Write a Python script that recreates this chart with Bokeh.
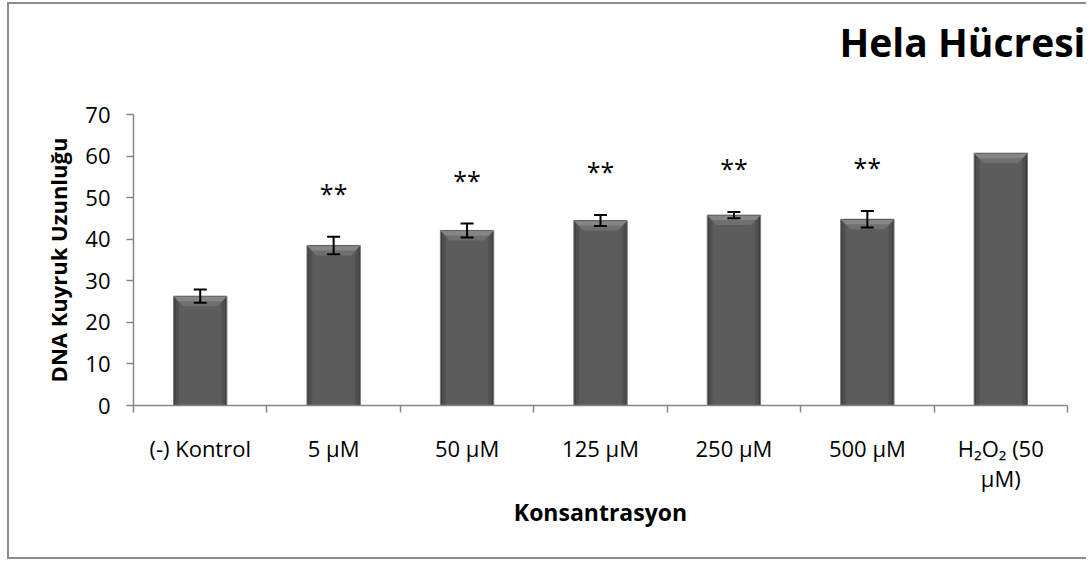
from bokeh.plotting import figure
from bokeh.models import (ColumnDataSource, Range1d, FixedTicker, Whisker, TeeHead, Title)
from bokeh.core.properties import value
from bokeh.embed import file_html
from bokeh.resources import INLINE

# ---- data ----
categories = ["(-) Kontrol", "5 µM", "50 µM", "125 µM", "250 µM", "500 µM", "H₂O₂ (50\nµM)"]
means = [26.3, 38.5, 42.1, 44.5, 45.8, 44.8, 60.7]
errors = [1.6, 2.1, 1.7, 1.3, 0.75, 2.0, 0.0]
significance = ["", "**", "**", "**", "**", "**", ""]
y_ticks = [0, 10, 20, 30, 40, 50, 60, 70]
title_text = "Hela Hücresi"
x_title = "Konsantrasyon"
y_title = "DNA Kuyruk Uzunluğu"

FONT = "Open Sans"
n = len(categories)
xs = [i + 0.5 for i in range(n)]
bar_w = 0.4

p = figure(width=1079, height=557, output_backend="svg", toolbar_location=None,
           x_range=Range1d(0, n), y_range=Range1d(0, 70),
           min_border_left=124, min_border_right=21, min_border_top=110,
           min_border_bottom=156, background_fill_color="white",
           border_fill_color="white", outline_line_color=None,
           styles={"border": "2px solid #8c8c8c", "border-right": "none",
                   "margin-left": "7px", "margin-top": "2px"})
p.grid.visible = False

# bars (layered to imitate bevel/shading)
src = ColumnDataSource(dict(x=xs, top=means))
p.vbar(x="x", top="top", width=bar_w, bottom=0, source=src,
       fill_color="#3e3e3e", line_color="#7a7a7a", line_width=1)
p.vbar(x="x", top="top", width=bar_w * 0.93, bottom=0, source=src,
       fill_color="#505050", line_color=None)
p.vbar(x="x", top="top", width=bar_w * 0.8, bottom=0, source=src,
       fill_color="#5c5c5c", line_color=None)

# top bevel trapezoids derived from bar values
bev_h = 2.4
inset = 0.07
bx, by = [], []
for x, v in zip(xs, means):
    bx.append([x - bar_w / 2 + 0.005, x + bar_w / 2 - 0.005, x + bar_w / 2 - inset, x - bar_w / 2 + inset])
    by.append([v - 0.15, v - 0.15, v - bev_h, v - bev_h])
p.patches(bx, by, fill_color="#707070", line_color=None)
bx2, by2 = [], []
for x, v in zip(xs, means):
    bx2.append([x - bar_w / 2 + 0.005, x + bar_w / 2 - 0.005, x + bar_w / 2 - inset / 2, x - bar_w / 2 + inset / 2])
    by2.append([v - 0.15, v - 0.15, v - bev_h / 2, v - bev_h / 2])
p.patches(bx2, by2, fill_color="#868686", line_color=None)

# error bars
ex = [x for x, e in zip(xs, errors) if e > 0]
eu = [m + e for m, e in zip(means, errors) if e > 0]
el = [m - e for m, e in zip(means, errors) if e > 0]
esrc = ColumnDataSource(dict(x=ex, upper=eu, lower=el))
w = Whisker(base="x", upper="upper", lower="lower", source=esrc,
            line_color="black", line_width=2, level="overlay",
            upper_head=TeeHead(size=13, line_color="black", line_width=2),
            lower_head=TeeHead(size=13, line_color="black", line_width=2))
p.add_layout(w)

# significance stars
sx = [x for x, s in zip(xs, significance) if s]
sy = [m + e + 10.5 for m, e, s in zip(means, errors, significance) if s]
st = [s for s in significance if s]
p.text(x=sx, y=sy, text=st, text_align="center", text_baseline="middle",
       text_font=value(FONT), text_font_size="25px", text_color="black")

# axes
p.yaxis.ticker = FixedTicker(ticks=y_ticks)
p.yaxis.axis_line_color = "#868686"
p.yaxis.axis_line_width = 1.5
p.yaxis.major_tick_line_color = "#868686"
p.yaxis.major_tick_line_width = 1.5
p.yaxis.major_tick_in = 0
p.yaxis.major_tick_out = 7
p.yaxis.minor_tick_line_color = None
p.yaxis.major_label_text_font = FONT
p.yaxis.major_label_text_font_size = "22px"
p.yaxis.major_label_text_color = "black"
p.yaxis.major_label_standoff = 16
p.yaxis.axis_label = y_title
p.yaxis.axis_label_text_font = FONT
p.yaxis.axis_label_text_font_style = "bold"
p.yaxis.axis_label_text_font_size = "22px"
p.yaxis.axis_label_text_color = "black"
p.yaxis.axis_label_standoff = 9

p.xaxis.ticker = FixedTicker(ticks=xs, minor_ticks=list(range(n + 1)))
p.xaxis.major_label_overrides = {x: c for x, c in zip(xs, categories)}
p.xaxis.axis_line_color = "#868686"
p.xaxis.axis_line_width = 1.5
p.xaxis.major_tick_line_color = None
p.xaxis.minor_tick_line_color = "#868686"
p.xaxis.minor_tick_line_width = 1.5
p.xaxis.minor_tick_in = 0
p.xaxis.minor_tick_out = 7
p.xaxis.major_label_text_font = FONT
p.xaxis.major_label_text_font_size = "22px"
p.xaxis.major_label_text_color = "black"
p.xaxis.major_label_text_line_height = 1.0
p.xaxis.major_label_standoff = 20
p.xaxis.axis_label = x_title
p.xaxis.axis_label_text_font = FONT
p.xaxis.axis_label_text_font_style = "bold"
p.xaxis.axis_label_text_font_size = "23px"
p.xaxis.axis_label_text_color = "black"
p.xaxis.axis_label_standoff = 0

# spacer between frame and title (closest to the frame), then the chart title
p.add_layout(Title(text="\u00a0", text_font=FONT, text_font_size="20px",
                   standoff=12, text_color="white"), "above")
p.add_layout(Title(text=title_text, align="right", offset=-18, standoff=12,
                   text_font=FONT, text_font_style="bold", text_font_size="39px",
                   text_color="black"), "above")

open("out.html", "w").write(file_html(p, INLINE))
